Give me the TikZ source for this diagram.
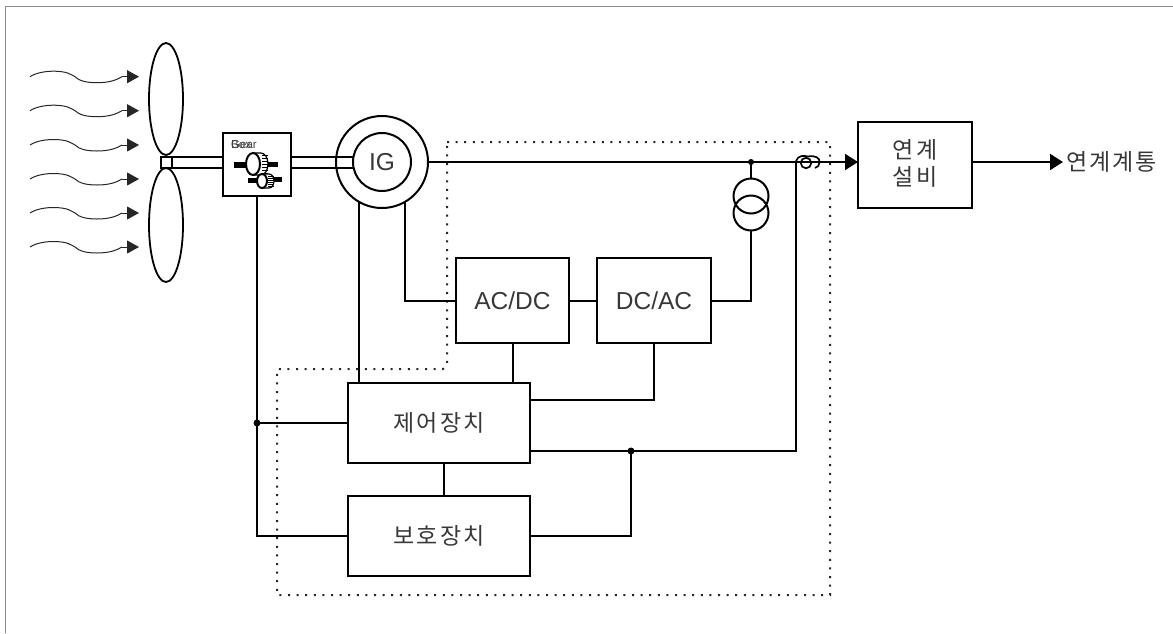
\documentclass[tikz,border=0pt]{standalone}
\usepackage{fontspec}
\setmainfont{Liberation Sans}
\newfontfamily\krfont[LetterSpace=9]{Noto Sans CJK KR}
\usetikzlibrary{arrows.meta}
\tikzset{
  x=1pt,y=-1pt,
  ln/.style={line width=2pt,black,line join=miter},
  boxn/.style={draw,line width=2pt,inner sep=0pt,outer sep=0pt,align=center},
  latin/.style={font=\fontsize{24.5}{26}\selectfont,text=black!78},
  kor/.style={font=\fontsize{23}{27}\selectfont\krfont,text=black!78},
  wind/.style={line width=1pt,black!85},
  tipa/.style={-{Triangle[length=13pt,width=16pt]}},
  tipw/.style={-{Triangle[length=12pt,width=13pt]}},
  dot/.style={circle,fill=black,inner sep=0pt,minimum size=7pt},
  dots/.style={line width=2pt,black!85,dash pattern=on 2pt off 6.6pt},
  gearbar/.style={fill=black,draw=none},
}
\begin{document}
\begin{tikzpicture}
\useasboundingbox (0,0) rectangle (1173,633);
% frame
\draw[line width=1.6pt,black!45] (5.5,633) -- (5.5,6.5) -- (1173,6.5);

% dotted boundary
\draw[dots] (447,142) -- (830,142) -- (830,595) -- (277,595) -- (277,369) -- (443,369) -- (447,365) -- cycle;

% blades, hub
\draw[line width=1.8pt,fill=white] (166,99) ellipse [x radius=17,y radius=56];
\draw[line width=1.8pt,fill=white] (166,225) ellipse [x radius=17,y radius=57];
\node[boxn,minimum width=11pt,minimum height=11pt,fill=white] (hub) at (166.5,162) {};

% generator
\node[draw,circle,line width=2pt,minimum size=92pt,inner sep=0pt,outer sep=0pt] (igo) at (382,162) {};
\node[draw,circle,line width=2pt,minimum size=58pt,inner sep=0pt,outer sep=0pt,fill=white,latin] (igi) at (382,162) {IG};

% gear box
\node[boxn,minimum width=68.5pt,minimum height=63pt] (gear) at (257.2,164.5) {};
\node[anchor=west,inner sep=0pt,font=\fontsize{11.5}{12}\selectfont,text=black!75] (geartxt) at (231,145) {Gear};
\node[anchor=west,inner sep=0pt,font=\fontsize{11.5}{12}\selectfont,text=black!75] (boxtxt) at (231,145) {Box};
% gear icon
\fill[gearbar] (234,162) rectangle (250,168);
\fill[gearbar] (266,162) rectangle (278,167);
\fill[gearbar] (248,178) rectangle (258,183);
\fill[gearbar] (272,177) rectangle (282,182);
\draw[line width=1.2pt,fill=white] (253,153) -- (261,153) arc [start angle=-90,end angle=90,x radius=7,y radius=11] -- (253,175);
\foreach \yy in {155,158,161,164,167,170,173} {\draw[line width=0.9pt] (262,\yy) -- (267.5,\yy);}
\draw[line width=2pt,fill=white] (253,164) ellipse [x radius=7,y radius=11];
\draw[line width=1.2pt,fill=white] (262,174) -- (269,174) arc [start angle=-90,end angle=90,x radius=5,y radius=7] -- (262,188);
\foreach \yy in {176,178,180,182,184,186} {\draw[line width=0.8pt] (268,\yy) -- (273.5,\yy);}
\draw[line width=2pt,fill=white] (262,181) ellipse [x radius=5,y radius=7];

% other boxes
\node[boxn,latin,minimum width=113pt,minimum height=85pt] (acdc) at (512.5,300.5) {AC/DC};
\node[boxn,latin,minimum width=114pt,minimum height=85pt] (dcac) at (654,300.5) {DC/AC};
\node[boxn,kor,minimum width=182pt,minimum height=80pt] (ctrl) at (439,423) {제어장치};
\node[boxn,kor,minimum width=182pt,minimum height=80pt] (prot) at (439,536) {보호장치};
\node[boxn,kor,minimum width=114pt,minimum height=86pt] (link) at (915,165) {};
\node[inner sep=0pt,kor] (linka) at (915,150) {연계};
\node[inner sep=0pt,kor] (linkb) at (915,177) {설비};
\node[anchor=west,inner sep=0pt,kor] (grid) at (1066,162) {연계계통};

% transformer
\node[draw,circle,line width=2pt,minimum size=35pt,inner sep=0pt,outer sep=0pt] (tru) at (751,196) {};
\node[draw,circle,line width=2pt,minimum size=35pt,inner sep=0pt,outer sep=0pt] (trl) at (751,213) {};

% coordinates
\coordinate (igr) at (428,162);
\coordinate (j1) at (751,162);
\coordinate (linkw) at (858,162);
\coordinate (linke) at (972,162);
\coordinate (gridw) at (1063,162);
\coordinate (busj) at (257,423);
\coordinate (j2) at (631,451);
\coordinate (coilb) at (796,162);
\coordinate (igbr) at (405,201.8);
\coordinate (igbl) at (359,201.8);

% shaft
\draw[ln] (hub.east |- 0,156.5) -- (gear.west |- 0,156.5);
\draw[ln] (hub.east |- 0,167.5) -- (gear.west |- 0,167.5);
\draw[ln] (gear.east |- 0,156.5) -- (igi.west |- 0,156.5);
\draw[ln] (gear.east |- 0,167.5) -- (igi.west |- 0,167.5);

% main line
\draw[ln,tipa] (igr) -- (linkw);
\draw[ln,tipa] (linke) -- (gridw);
\draw[ln] (j1) -- (tru.north);
\draw[ln] (trl.south) |- (dcac.east);
\node[dot,minimum size=6pt] (d1) at (j1) {};

% converters
\draw[ln] (igbr) |- (acdc.west);
\draw[ln] (acdc.east) -- (dcac.west);
\draw[ln] (igbl) -- (igbl |- ctrl.north);
\draw[ln] (acdc.south) -- (acdc.south |- ctrl.north);
\draw[ln] (dcac.south) |- (ctrl.east |- 0,400);
\draw[ln] (ctrl.east |- j2) -- (j2);
\draw[ln] (j2) -- (coilb |- j2) -- (coilb);
\draw[ln] (j2) |- (prot.east);
\node[dot] (d2) at (j2) {};
\draw[ln] (444,463) -- (444,496);

% left bus
\draw[ln] (gear.south) |- (prot.west);
\draw[ln] (busj) -- (ctrl.west);
\node[dot] (d3) at (busj) {};

% current transformer
\draw[line width=1.7pt] (796,161) .. controls (798,155) and (804,155.5) .. (808,156.5) .. controls (815,155) and (820,158) .. (819.5,162) .. controls (819.5,165) and (818,167.5) .. (815,168);
\node[draw,circle,line width=1.7pt,minimum size=10.5pt,inner sep=0pt] (ct) at (806,163) {};

% wind
\foreach \yy in {76.7,110.7,145,179,213,247} {
  \draw[wind] (30,\yy) .. controls (36,\yy-4) and (46,\yy-5.5) .. (53,\yy-5.5) .. controls (68,\yy-5.5) and (71,\yy-2) .. (75,\yy) .. controls (79,\yy+4) and (86,\yy+6) .. (97,\yy+6) .. controls (110,\yy+6) and (117,\yy+3) .. (122,\yy);
  \draw[wind,tipw] (122,\yy) -- (139,\yy);
}
\end{tikzpicture}
\end{document}
